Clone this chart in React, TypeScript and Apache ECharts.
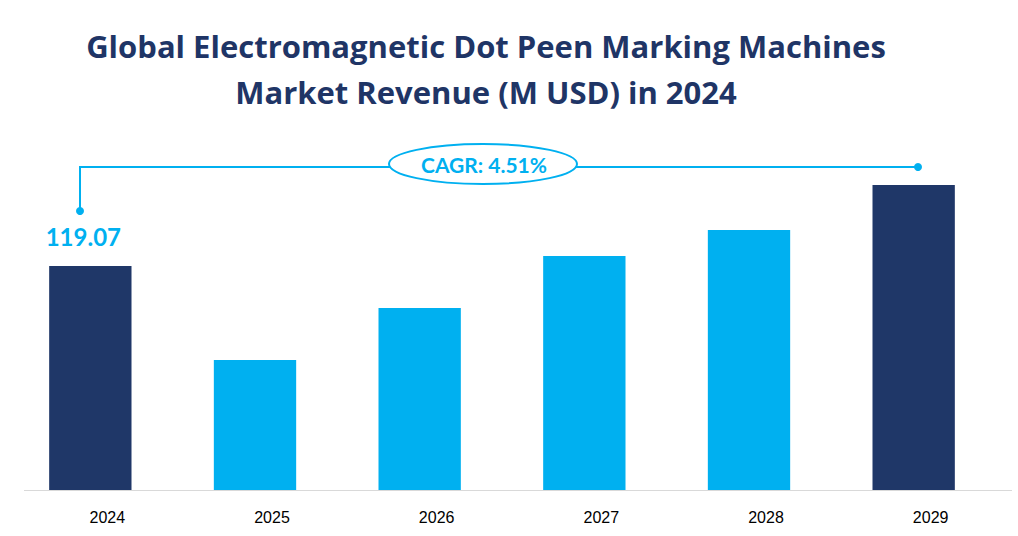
import React, { useEffect, useRef } from "react";
import * as echarts from "echarts";

const categories = ["2024", "2025", "2026", "2027", "2028", "2029"];
const revenue = [119.07, 69.1, 96.8, 124.4, 138.2, 162.1];
const barColors = ["#1f3768", "#00b0f0", "#00b0f0", "#00b0f0", "#00b0f0", "#1f3768"];
const titleLines = ["Global Electromagnetic Dot Peen Marking Machines", "Market Revenue (M USD) in 2024"];
const cagrText = "CAGR: 4.51%";

export default function App() {
  const ref = useRef<HTMLDivElement>(null);
  useEffect(() => {
    document.body.style.margin = "0";
    const chart = echarts.init(ref.current!, undefined, { renderer: "svg" });
    const accent = "#00b0f0";
    chart.setOption({
      animation: false,
      backgroundColor: "#ffffff",
      title: {
        text: titleLines.join("\n"),
        left: 481,
        top: 18,
        textAlign: "center",
        textStyle: {
          fontFamily: "Open Sans",
          fontWeight: "bold",
          fontSize: 31,
          lineHeight: 46,
          color: "#1f3566",
        },
      },
      grid: { left: 8, right: 22, top: 151.4, bottom: 46 },
      xAxis: {
        type: "category",
        data: categories,
        axisLine: { show: false },
        axisTick: { show: false },
        axisLabel: {
          color: "#000000",
          fontSize: 16,
          margin: 19,
          fontFamily: "Liberation Sans",
          padding: [0, 0, 0, 34],
        },
      },
      yAxis: {
        type: "value",
        min: 0,
        max: 180,
        show: false,
        splitLine: { show: false },
      },
      series: [
        {
          type: "bar",
          barWidth: "50%",
          data: revenue.map((v, i) => ({
            value: v,
            itemStyle: { color: barColors[i] },
            label:
              i === 0
                ? {
                    show: true,
                    position: "top",
                    distance: 18,
                    offset: [-7, 0],
                    formatter: (p: any) => p.value.toFixed(2),
                    color: accent,
                    fontSize: 24,
                    fontWeight: "bold",
                    fontFamily: "Lato",
                  }
                : { show: false },
          })),
        },
      ],
      graphic: [
        {
          type: "line",
          shape: { x1: 24, y1: 490.5, x2: 1012, y2: 490.5 },
          style: { stroke: "#d9d9d9", lineWidth: 1 },
          z: 0,
        },
        {
          type: "polyline",
          shape: { points: [[80, 211], [80, 167], [918, 167]] },
          style: { stroke: accent, lineWidth: 2, fill: null },
        },
        { type: "circle", shape: { cx: 80, cy: 211, r: 4 }, style: { fill: accent } },
        { type: "circle", shape: { cx: 918, cy: 167, r: 4 }, style: { fill: accent } },
        {
          type: "ellipse",
          shape: { cx: 483, cy: 164, rx: 94, ry: 20 },
          style: { fill: "#ffffff", stroke: accent, lineWidth: 2 },
        },
        {
          type: "text",
          x: 484,
          y: 164,
          style: {
            text: cagrText,
            fill: accent,
            fontSize: 21,
            fontWeight: "bold",
            fontFamily: "Lato",
            align: "center",
            verticalAlign: "middle",
          },
        },
      ],
    });
    return () => chart.dispose();
  }, []);
  return <div ref={ref} style={{ width: 1018, height: 536 }} />;
}
